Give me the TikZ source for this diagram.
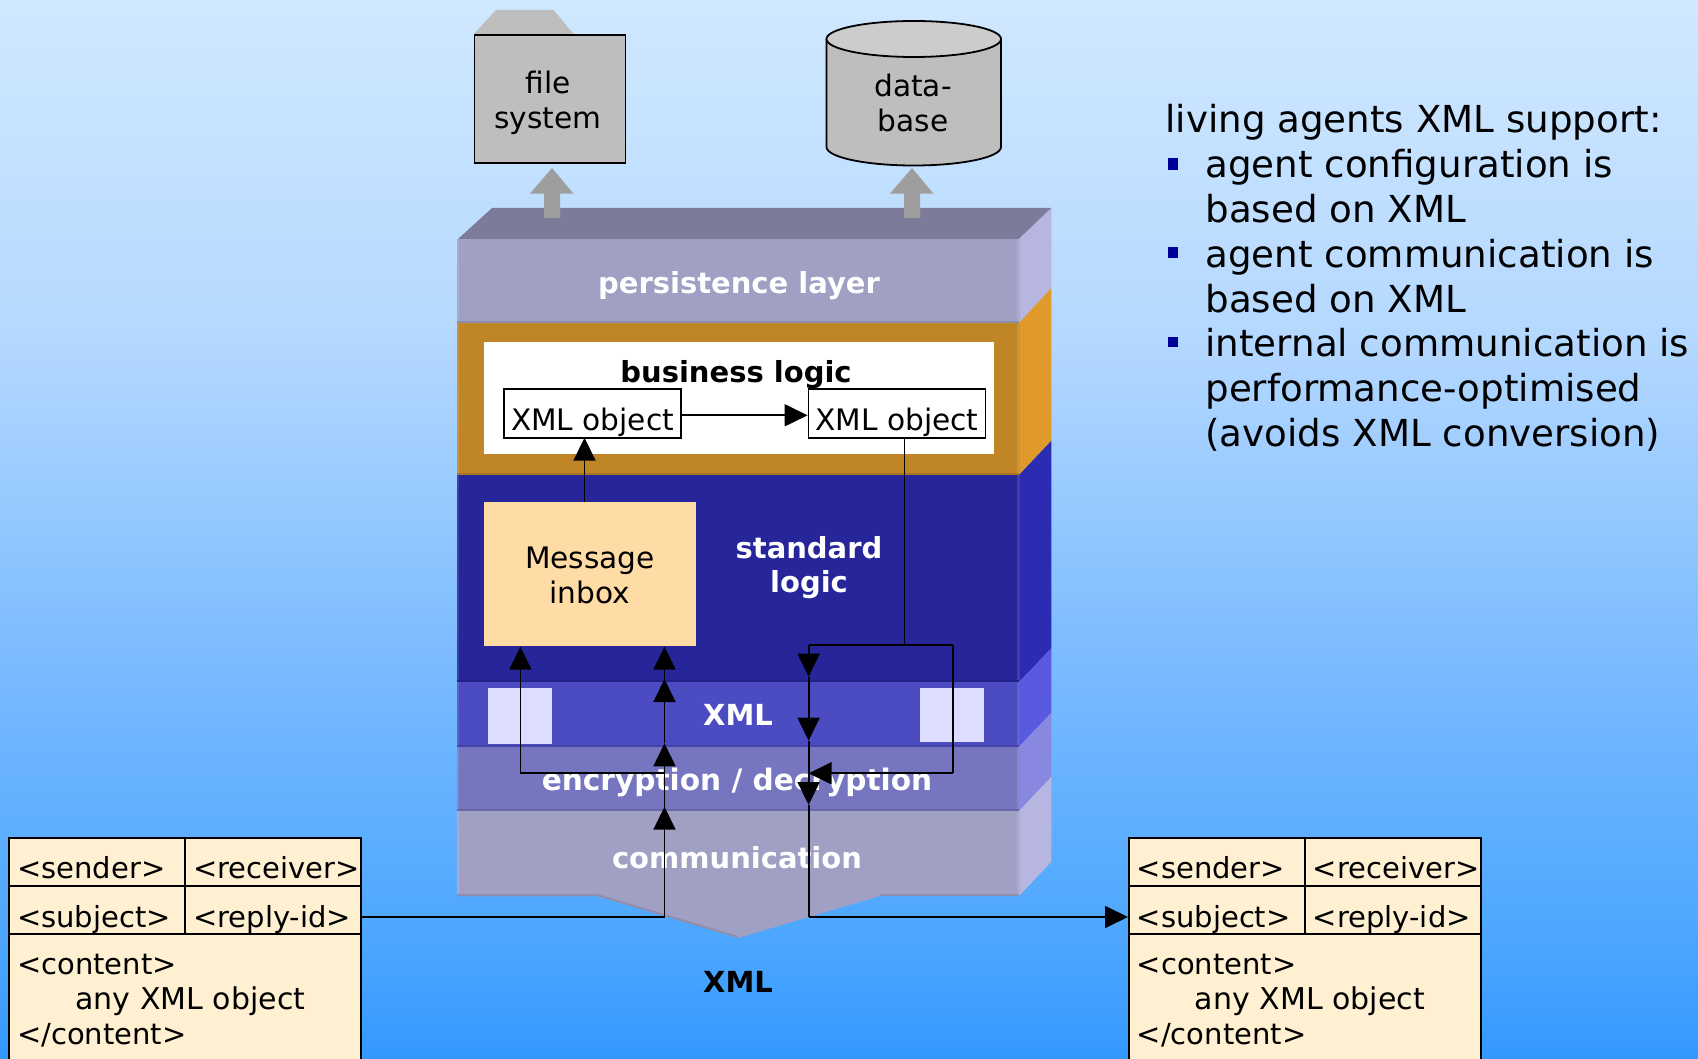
\documentclass[tikz,border=0pt]{standalone}
\usepackage{fontspec}
\setmainfont{DejaVu Sans}
\usepackage{tikz}
\usetikzlibrary{arrows.meta}

\pgfdeclareverticalshading{sky}{100bp}{rgb(0bp)=(0.2,0.6,1); rgb(25bp)=(0.2,0.6,1); rgb(30bp)=(0.29,0.647,1); rgb(44.5bp)=(0.49,0.737,1); rgb(59bp)=(0.706,0.847,1); rgb(75bp)=(0.816,0.91,1); rgb(100bp)=(0.816,0.91,1)}
\definecolor{persistfront}{RGB}{160,160,196}
\definecolor{persistside}{RGB}{182,182,224}
\definecolor{persisttop}{RGB}{124,124,154}
\definecolor{businessfront}{RGB}{192,134,38}
\definecolor{businessside}{RGB}{224,154,44}
\definecolor{standardfront}{RGB}{38,38,154}
\definecolor{standardside}{RGB}{44,44,178}
\definecolor{xmlfront}{RGB}{76,76,194}
\definecolor{xmlside}{RGB}{90,90,224}
\definecolor{cryptfront}{RGB}{118,118,192}
\definecolor{cryptside}{RGB}{136,136,224}
\definecolor{storegrey}{RGB}{190,190,190}
\definecolor{storelight}{RGB}{204,204,204}
\definecolor{pipegrey}{RGB}{158,158,158}
\definecolor{inboxfill}{RGB}{255,220,165}
\definecolor{slotfill}{RGB}{221,221,255}
\definecolor{cellfill}{RGB}{255,240,210}
\definecolor{bulletblue}{RGB}{0,0,153}

\begin{document}
\begin{tikzpicture}[x=0.5pt,y=-0.5pt]
        \tikzset{layerlabel/.style = {text=white,font=\fontsize{14.5}{17.3}\selectfont\bfseries,align=center}}
        \tikzset{store/.style = {align=center,font=\fontsize{14.8}{17.3}\selectfont}}
        \tikzset{wire/.style = {line width=0.9pt}}
        \tikzset{xmlobj/.style = {wire,draw,fill=white,minimum width=88.5pt,minimum height=24.3pt,inner sep=0pt,text height=16.7pt,text depth=0pt,font=\fontsize{14.8}{16}\selectfont}}
        \tikzset{cell/.style = {wire,draw,fill=cellfill,anchor=north west,minimum height=24.2pt,text width=80pt,inner xsep=4pt,inner ysep=0pt,text height=16.9pt,text depth=0pt,font=\fontsize{14.5}{16}\selectfont}}
        \tikzset{body/.style = {wire,draw,fill=cellfill,anchor=north west,text width=168pt,inner xsep=4pt,inner ysep=10pt,align=left,font=\fontsize{14.5}{17.5}\selectfont}}
        \tikzset{edge/.style = {->,wire,> = {Triangle[length=11.5pt,width=11pt]}}}
        \tikzset{supporttext/.style = {anchor=north west,align=left,inner sep=0pt,font=\fontsize{18.6}{22.4}\selectfont}}
        \path[use as bounding box,clip] (0,0) rectangle (1698,1059);
        % background
        \shade[shading=sky] (0,0) rectangle (1698,1059);
        % file system and database
        \fill[storegrey] (474,34) -- (496,10) -- (553.5,10) -- (573.5,34) -- cycle;
        \node[wire,draw,fill=storegrey,minimum width=75.5pt,minimum height=64pt] (filesys) at (550,99) {};
        \node[store] (filesyslabel) at (548,103) {file\\system};
        \draw[wire,fill=storegrey] (826.5,39) -- (826.5,147) arc[start angle=180,end angle=0,x radius=87.25,y radius=18.5] -- (1001,39) -- cycle;
        \draw[wire,fill=storelight] (913.75,39) ellipse[x radius=87.25,y radius=18];
        \node[store] (database) at (913,103) {data-\\base};
        % layers
        \fill[persisttop] (458,239) -- (492,208) -- (1051.4,208) -- (1019,239) -- cycle;
        \fill[pipegrey] (544,218) -- (544,193.7) -- (530,193.7) -- (552,168) -- (573.5,193.7) -- (560,193.7) -- (560,218) -- cycle;
        \fill[pipegrey] (904,218) -- (904,193.7) -- (890,193.7) -- (912,168) -- (933.5,193.7) -- (920,193.7) -- (920,218) -- cycle;
        \fill[persistside] (1019,239) -- (1051.4,208) -- (1051.4,288) -- (1019,323) -- cycle;
        \fill[businessside] (1019,323) -- (1051.4,288) -- (1051.4,440.7) -- (1019,475) -- cycle;
        \fill[standardside] (1019,475) -- (1051.4,440.7) -- (1051.4,648.3) -- (1019,682) -- cycle;
        \fill[xmlside] (1019,682) -- (1051.4,648.3) -- (1051.4,712.7) -- (1019,746.7) -- cycle;
        \fill[cryptside] (1019,746.7) -- (1051.4,712.7) -- (1051.4,776.7) -- (1019,811) -- cycle;
        \fill[persistside] (1019,811) -- (1051.4,776.7) -- (1051.4,861.7) -- (1019,896) -- cycle;
        \fill[persistfront] (457,811) -- (1019,811) -- (1019,896) -- (880,896) -- (738,938) -- (597,896) -- (457,896) -- cycle;
        \draw[persistfront!88!black,line width=1pt] (457,895) -- (597,895) -- (738,937);
        \draw[persistfront!88!black,line width=1pt] (880,895) -- (1019,895);
        \foreach \ytop/\ybot/\front in {239/323/persistfront,323/475/businessfront,475/682/standardfront,682/746.7/xmlfront,746.7/811/cryptfront}
        {
          \fill[\front] (457,\ytop) rectangle (1019,\ybot);
          \draw[\front!88!black,line width=1pt] (457,\ybot-1) -- (1019,\ybot-1);
        }
        \foreach \ytop/\ybot/\front in {239/323/persistfront,323/475/businessfront,475/682/standardfront,682/746.7/xmlfront,746.7/811/cryptfront,811/896/persistfront}
        {
          \draw[\front!88!white,line width=1pt] (458,\ytop) -- (458,\ybot-2);
          \draw[\front!88!white,line width=1.5pt] (1018,\ytop) -- (1018,\ybot-2);
        }
        \fill[white] (484,342) rectangle (994,454);
        \fill[slotfill] (488,688) rectangle (552,744);
        \fill[slotfill] (920,688) rectangle (984,742);
        % labels
        \node[layerlabel] (persistlabel) at (739,286) {persistence layer};
        \node[layerlabel,text=black] (businesslabel) at (736,374.5) {business logic};
        \node[layerlabel] (standardlabel) at (809,567.5) {standard\\logic};
        \node[layerlabel] (xmllabel) at (738,714.5) {XML};
        \node[layerlabel,font=\fontsize{14.8}{17.3}\selectfont\bfseries] (cryptlabel) at (737,782) {encryption / decryption};
        \node[layerlabel] (commlabel) at (737,858) {communication};
        \node[layerlabel,text=black] (xmlcaption) at (738,981.5) {XML};
        % boxes
        \node[xmlobj] (objleft) at (592.5,413.3) {XML object};
        \node[xmlobj] (objright) at (897,413.3) {XML object};
        \node[fill=inboxfill,minimum width=106pt,minimum height=72pt] (inbox) at (590,574) {};
        \node[store] (inboxlabel) at (590,575.5) {Message\\inbox};
        % corners and ends of the wires
        \coordinate (inboxleft) at (520.4,646.7);
        \coordinate (leftturn) at (520.4,773.3);
        \coordinate (rightturn) at (952.6,773.3);
        \coordinate (rightcorner) at (952.6,645);
        \coordinate (downcorner) at (808.6,645);
        \coordinate (objdrop) at (904.5,437.7);
        \coordinate (dropjoin) at (904.5,645);
        \coordinate (inboxup) at (584.5,502);
        \coordinate (objup) at (584.5,437.7);
        \coordinate (upbase) at (664.5,917);
        \coordinate (upone) at (664.5,806.7);
        \coordinate (uptwo) at (664.5,743.3);
        \coordinate (upthree) at (664.5,679);
        \coordinate (upfour) at (664.5,646.7);
        \coordinate (leftjoin) at (664.5,773.3);
        \coordinate (downone) at (808.6,676.7);
        \coordinate (downtwo) at (808.6,740.7);
        \coordinate (downthree) at (808.6,805);
        \coordinate (downbase) at (808.6,917);
        \coordinate (crossing) at (808.6,773.3);
        \coordinate (leftout) at (361,917);
        \coordinate (rightin) at (1128,917);
        % message tables
        \node[cell] (leftsender) at (8.3,836.7) {<sender>};
        \node[cell] (leftreceiver) at (184.3,836.7) {<receiver>};
        \node[cell] (leftsubject) at (8.3,885) {<subject>};
        \node[cell] (leftreply) at (184.3,885) {\mbox{<reply-id>}};
        \node[body] (leftbody) at (8.3,933.3) {<content>\\\hspace*{29pt}{\fontsize{15}{17.5}\selectfont any XML object}\\</content>};
        \node[cell] (rightsender) at (1128,836.7) {<sender>};
        \node[cell] (rightreceiver) at (1304,836.7) {<receiver>};
        \node[cell] (rightsubject) at (1128,885) {<subject>};
        \node[cell] (rightreply) at (1304,885) {\mbox{<reply-id>}};
        \node[body] (rightbody) at (1128,933.3) {<content>\\\hspace*{29pt}{\fontsize{15}{17.5}\selectfont any XML object}\\</content>};
        %edges
        \draw[edge] ([yshift=-1pt]objleft.east) -- ([yshift=-1pt]objright.west);
        \draw[edge] (inboxup) -- (objup);
        \draw[wire] (objdrop) -- (dropjoin);
        \draw[edge] (leftturn) -- (inboxleft);
        \draw[wire] (leftturn) -- (leftjoin);
        \draw[edge] (upbase) -- (upone);
        \draw[edge] (upone) -- (uptwo);
        \draw[edge] (uptwo) -- (upthree);
        \draw[edge] (upthree) -- (upfour);
        \draw[wire] (leftout) -- (upbase);
        \draw[wire] (rightcorner) -- (downcorner);
        \draw[edge] (downcorner) -- (downone);
        \draw[edge] (downone) -- (downtwo);
        \draw[edge] (downtwo) -- (downthree);
        \draw[wire] (downthree) -- (downbase);
        \draw[edge] (downbase) -- (rightin);
        \draw[wire] (rightcorner) -- (rightturn);
        \draw[edge] (rightturn) -- (crossing);
        % support list
        \node[supporttext] (supporthead) at (1165,104) {living agents XML support:};
        \node[supporttext] (supportlist) at (1205,149) {agent configuration is\\based on XML\\agent communication is\\based on XML\\internal communication is\\performance-optimised\\(avoids XML conversion)};
        \fill[bulletblue] (1167.5,158) rectangle (1178,170);
        \fill[bulletblue] (1167.5,246.7) rectangle (1178,258);
        \fill[bulletblue] (1167.5,336.7) rectangle (1178,347.5);
\end{tikzpicture}
\end{document}
